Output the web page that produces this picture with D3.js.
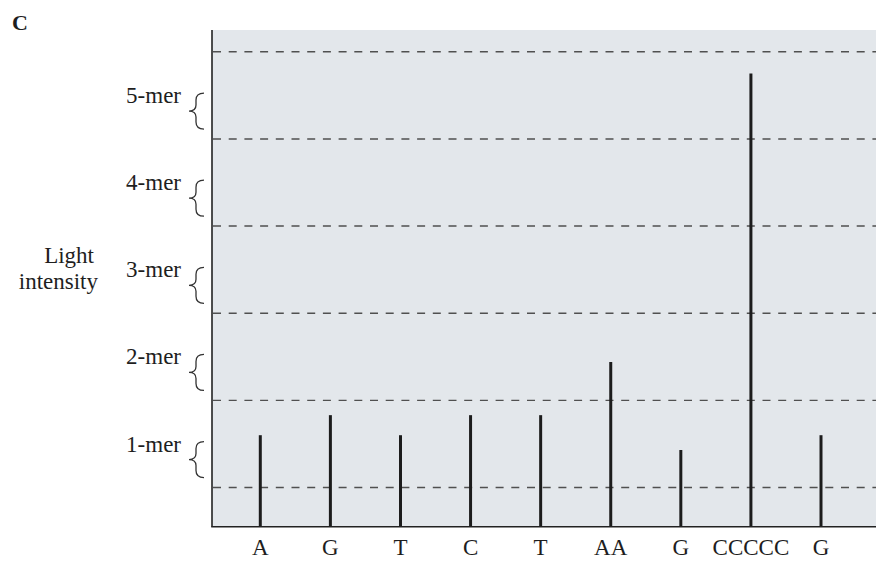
<!DOCTYPE html>
<html>
<head>
<meta charset="utf-8">
<script src="https://cdn.jsdelivr.net/npm/d3@7"></script>
<style>
  body { margin: 0; background: #fff; }
  text { font-family: "Liberation Serif", "Times New Roman", serif; fill: #1e1e1e; }
</style>
</head>
<body>
<svg id="chart" width="884" height="561"></svg>
<script>
// bases read along the run, and the light intensity of each flash
const bases = ["A", "G", "T", "C", "T", "AA", "G", "CCCCC", "G"];
const intensity = [1.1, 1.33, 1.1, 1.33, 1.33, 1.94, 0.93, 5.25, 1.1];
// dashed level boundaries and the n-mer bands between them
const levelLines = [0.5, 1.5, 2.5, 3.5, 4.5, 5.5];
const merLabels = ["1-mer", "2-mer", "3-mer", "4-mer", "5-mer"];
const merLevels = [1, 2, 3, 4, 5];

const svg = d3.select("#chart");
const plot = {left: 212, right: 876, top: 30, bottom: 526.7};

const x = d3.scalePoint()
    .domain(d3.range(bases.length))
    .range([260.3, 821]);
const y = d3.scaleLinear()
    .domain([0.05, 5.75])
    .range([plot.bottom, plot.top]);

// panel background
svg.append("rect")
    .attr("x", plot.left).attr("y", plot.top)
    .attr("width", plot.right - plot.left)
    .attr("height", plot.bottom - plot.top)
    .attr("fill", "#e3e7eb");

// dashed level lines
svg.append("g")
    .selectAll("line")
    .data(levelLines)
    .join("line")
    .attr("x1", plot.left + 1).attr("x2", plot.right)
    .attr("y1", d => y(d)).attr("y2", d => y(d))
    .attr("stroke", "#505050")
    .attr("stroke-width", 1.4)
    .attr("stroke-dasharray", "8,7.7");

// intensity spikes
svg.append("g")
    .selectAll("line")
    .data(intensity)
    .join("line")
    .attr("x1", (d, i) => x(i)).attr("x2", (d, i) => x(i))
    .attr("y1", y(0.05)).attr("y2", d => y(d))
    .attr("stroke", "#1c1c1c")
    .attr("stroke-width", 3);

// axes (plain lines, no ticks)
svg.append("line")
    .attr("x1", plot.left).attr("x2", plot.left)
    .attr("y1", plot.top).attr("y2", plot.bottom)
    .attr("stroke", "#222").attr("stroke-width", 1.6);
svg.append("line")
    .attr("x1", plot.left - 0.8).attr("x2", plot.right)
    .attr("y1", plot.bottom).attr("y2", plot.bottom)
    .attr("stroke", "#222").attr("stroke-width", 1.6);

// base labels under the axis
svg.append("g")
    .selectAll("text")
    .data(bases)
    .join("text")
    .attr("x", (d, i) => x(i))
    .attr("y", 555)
    .attr("text-anchor", "middle")
    .attr("font-size", 23)
    .text(d => d);

// n-mer labels with braces
const mer = svg.append("g")
    .selectAll("g")
    .data(merLevels)
    .join("g");
mer.append("text")
    .attr("x", 181)
    .attr("y", d => y(d - 0.088))
    .attr("text-anchor", "end")
    .attr("font-size", 23)
    .text((d, i) => merLabels[i]);
mer.append("path")
    .attr("d", d => {
        const ym = y(d - 0.18);
        const y0 = ym - 18, y1 = ym + 18;
        const xr = 204, xm = 196, xl = 189;
        return `M ${xr} ${y0} Q ${xm} ${y0} ${xm} ${y0 + 7} L ${xm} ${ym - 6} Q ${xm} ${ym} ${xl} ${ym}`
             + ` Q ${xm} ${ym} ${xm} ${ym + 6} L ${xm} ${y1 - 7} Q ${xm} ${y1} ${xr} ${y1}`;
    })
    .attr("fill", "none")
    .attr("stroke", "#333")
    .attr("stroke-width", 1.3);

// y-axis title
const title = svg.append("text")
    .attr("text-anchor", "end")
    .attr("font-size", 23);
title.append("tspan").attr("x", 94).attr("y", 263).text("Light");
title.append("tspan").attr("x", 98).attr("y", 289).text("intensity");

// panel letter
svg.append("text")
    .attr("x", 12).attr("y", 30)
    .attr("font-size", 22)
    .attr("font-weight", "bold")
    .text("C");
</script>
</body>
</html>
